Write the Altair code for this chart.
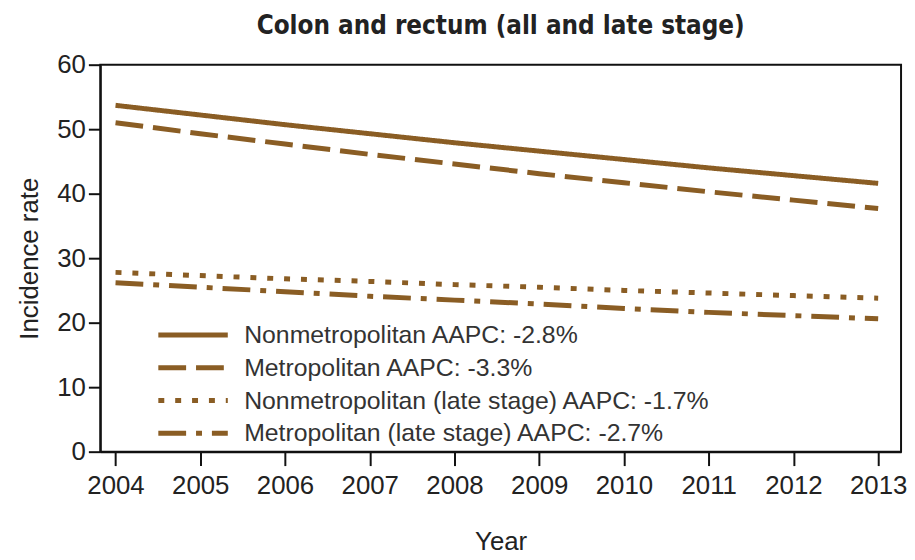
import altair as alt
import pandas as pd

years = [2004, 2005, 2006, 2007, 2008, 2009, 2010, 2011, 2012, 2013]
nonmetro = [53.7, 52.2, 50.7, 49.3, 47.9, 46.6, 45.3, 44.0, 42.8, 41.6]
metro = [51.0, 49.3, 47.7, 46.1, 44.6, 43.1, 41.7, 40.3, 39.0, 37.7]
nonmetro_late = [27.8, 27.3, 26.8, 26.4, 25.9, 25.5, 25.0, 24.6, 24.2, 23.8]
metro_late = [26.2, 25.5, 24.8, 24.1, 23.5, 22.9, 22.2, 21.6, 21.1, 20.6]

series_names = [
    "Nonmetropolitan AAPC: -2.8%",
    "Metropolitan AAPC: -3.3%",
    "Nonmetropolitan (late stage) AAPC: -1.7%",
    "Metropolitan (late stage) AAPC: -2.7%",
]
series_values = [nonmetro, metro, nonmetro_late, metro_late]

rows = []
for name, vals in zip(series_names, series_values):
    for yr, v in zip(years, vals):
        rows.append({"Year": yr, "Rate": v, "Series": name})
df = pd.DataFrame(rows)

BROWN = "#8a5d24"
NARROW = "Liberation Sans Narrow, DejaVu Sans Condensed, sans-serif"
REG = "Liberation Sans, sans-serif"

# long horizontal stroke path, scaled by sqrt(symbolSize)/2 = 10
LEGEND_PATH = "M-6,0H1"

chart = (
    alt.Chart(df)
    .mark_line(strokeWidth=5, strokeCap="butt", color=BROWN)
    .encode(
        x=alt.X(
            "Year:Q",
            scale=alt.Scale(domain=[2003.82, 2013.27], nice=False, zero=False),
            axis=alt.Axis(
                values=years,
                format="d",
                title="Year",
                grid=False,
                labelFont=REG,
                labelFontSize=26,
                labelColor="#222",
                titleFont=REG,
                titleFontSize=26,
                titleFontWeight="normal",
                titleColor="#222",
                titlePadding=31,
                tickSize=14,
                tickWidth=2,
                tickColor="#111",
                domainColor="#111",
                domainWidth=2,
                labelPadding=7,
            ),
        ),
        y=alt.Y(
            "Rate:Q",
            scale=alt.Scale(domain=[0, 60], nice=False),
            axis=alt.Axis(
                values=[0, 10, 20, 30, 40, 50, 60],
                title="Incidence rate",
                grid=False,
                labelFont=REG,
                labelFontSize=26,
                labelColor="#222",
                titleFont=REG,
                titleFontSize=26,
                titleFontWeight="normal",
                titleColor="#222",
                titlePadding=14,
                tickSize=12,
                tickWidth=2,
                tickColor="#111",
                domainColor="#111",
                domainWidth=2,
                labelPadding=3,
            ),
        ),
        strokeDash=alt.StrokeDash(
            "Series:N",
            sort=series_names,
            scale=alt.Scale(
                domain=series_names,
                range=[[1, 0], [28, 10], [6, 11], [28, 10, 6, 10]],
            ),
            legend=alt.Legend(
                title=None,
                orient="none",
                legendX=106,
                legendY=260,
                symbolType=LEGEND_PATH,
                symbolSize=400,
                symbolStrokeWidth=5,
                symbolStrokeColor=BROWN,
                symbolFillColor="transparent",
                labelFont=REG,
                labelFontSize=25,
                labelColor="#333",
                labelLimit=600,
                rowPadding=7,
                labelOffset=14,
            ),
        ),
    )
    .properties(
        width=807,
        height=390,
        title=alt.TitleParams(
            "Colon and rectum (all and late stage)",
            font=NARROW,
            fontSize=26,
            fontWeight="bold",
            color="#222",
            offset=13,
        ),
        padding={"left": 9, "top": 3, "right": 0, "bottom": 0},
    )
    .configure_view(stroke="#111", strokeWidth=2)
)

chart.save("out.html", embed_options={"renderer": "svg", "actions": False})
